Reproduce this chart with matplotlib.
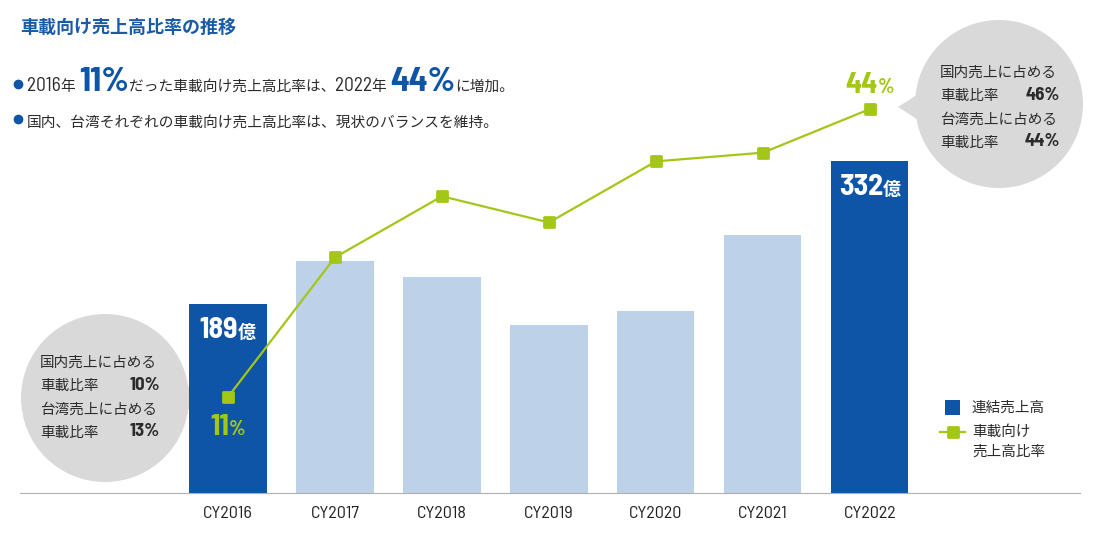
import numpy as np
import matplotlib.pyplot as plt
from matplotlib.markers import MarkerStyle
from matplotlib.patches import Circle, Polygon, Rectangle

NUM = ["Barlow Semi Condensed", "Noto Sans CJK JP", "DejaVu Sans"]
JP = ["Noto Sans CJK JP", "DejaVu Sans"]
plt.rcParams["font.family"] = NUM

# data
years = ["CY2016", "CY2017", "CY2018", "CY2019", "CY2020", "CY2021", "CY2022"]
sales = [189, 232, 216, 168, 182, 258, 332]          # 連結売上高 (億), unlabeled years estimated
auto_ratio = [11, 27, 34, 31, 38, 39, 44]           # 車載向け売上高比率 (%)
highlight = [True, False, False, False, False, False, True]
domestic_ratio = {"CY2016": 10, "CY2022": 46}       # 国内売上に占める車載比率 (%)
taiwan_ratio = {"CY2016": 13, "CY2022": 44}         # 台湾売上に占める車載比率 (%)

BLUE = "#0e55a7"
LIGHT = "#bdd1e8"
GREEN = "#a3c617"
BUBBLE = "#d9d9d9"
TEXT = "#2b2b2b"
W, H = 1100, 538

fig = plt.figure(figsize=(W / 100, H / 100), dpi=100)
back = fig.add_axes([0, 0, 1, 1], zorder=0)
front = fig.add_axes([0, 0, 1, 1], zorder=5)
for o in (back, front):
    o.set_xlim(0, W)
    o.set_ylim(H, 0)
    o.axis("off")
front.patch.set_visible(False)

ax = fig.add_axes([20 / W, (H - 493) / H, 1060 / W, 483 / H], zorder=1)
ax.patch.set_visible(False)
x = np.arange(len(years))
ax.bar(x, sales, width=0.72, color=[BLUE if h else LIGHT for h in highlight], zorder=2)
ax.set_xlim(-1.944, 7.963)
ax.set_ylim(0, 483)
ax.set_yticks([])
for s in ["top", "left", "right"]:
    ax.spines[s].set_visible(False)
ax.spines["bottom"].set_color("#b0b0b0")
ax.set_xticks(x, years, fontsize=13, color="#222222")
ax.tick_params(axis="x", length=0, pad=9)

ax2 = ax.twinx()
ax2.set_ylim(0, 483 / 8.727)
ax2.axis("off")
mk = MarkerStyle("s", joinstyle="round")
ax2.plot(x, auto_ratio, color=GREEN, lw=1.6, marker=mk, ms=7.5, mfc=GREEN, mec=GREEN, mew=2, zorder=3)

renderer = fig.canvas.get_renderer()


def rich(x0, y0, pieces, ha="left"):
    """Draw text pieces one after another on the front overlay, sharing a baseline."""
    objs, cx = [], x0
    for s, kw in pieces:
        t = front.text(cx, y0, s, va="baseline", **kw)
        cx += t.get_window_extent(renderer).width
        objs.append(t)
    shift = {"left": 0, "center": (cx - x0) / 2, "right": cx - x0}[ha]
    for t in objs:
        t.set_x(t.get_position()[0] - shift)


def to_px(a, xv, yv):
    dx, dy = a.transData.transform((xv, yv))
    return dx, H - dy


# title and bullets
front.text(20, 27, "車載向け売上高比率の推移", fontsize=13, color="#1b5ba6",
           fontweight="bold", va="center", family=JP)
jp = dict(fontsize=10.6, color=TEXT, family=JP)
num = dict(fontsize=14, color=TEXT)
big = dict(fontsize=25, color=BLUE, fontweight="bold")
rich(27, 91, [("2016", num), ("年 ", jp), ("11%", big),
              ("だった車載向け売上高比率は、", jp), ("2022", num), ("年 ", jp), ("44%", big),
              ("に増加。", jp)])
rich(27, 127, [("国内、台湾それぞれの車載向け売上高比率は、現状のバランスを維持。", jp)])
front.plot([18, 18], [84, 119], ls="none", marker="o", ms=6, color=BLUE)

# bar value labels
for i, h in enumerate(highlight):
    if h:
        bx, by = to_px(ax, i, sales[i])
        rich(bx, by + 34, [(str(sales[i]), dict(fontsize=21.5, color="white", fontweight="bold")),
                           ("億", dict(fontsize=13, color="white", fontweight="bold", family=JP))],
             ha="center")

# ratio labels
gnum = dict(fontsize=21.5, color=GREEN, fontweight="bold")
gpct = dict(fontsize=15, color=GREEN, fontweight="bold")
lx, ly = to_px(ax2, 0, auto_ratio[0])
rich(lx, ly + 38, [(str(auto_ratio[0]), gnum), ("%", gpct)], ha="center")
rx, ry = to_px(ax2, 6, auto_ratio[6])
rich(rx, ry - 16, [(str(auto_ratio[6]), gnum), ("%", gpct)], ha="center")


# speech bubbles
def bubble(cx, cy, r, tip, year, tx, ty, rx_edge):
    back.add_patch(Circle((cx, cy), r, color=BUBBLE, lw=0, zorder=0))
    side = 1 if tip[0] > cx else -1
    bx = cx + side * (r - 8)
    back.add_patch(Polygon([(bx, tip[1] - 16), tip, (bx, tip[1] + 16)], closed=True,
                           color=BUBBLE, lw=0, zorder=0))
    f = dict(fontsize=10.5, color=TEXT, va="center", family=JP)
    fb = dict(fontsize=13.5, color=TEXT, va="center", fontweight="bold")
    rows = [("国内売上に占める", None), ("車載比率", domestic_ratio[year]),
            ("台湾売上に占める", None), ("車載比率", taiwan_ratio[year])]
    offs = [0, 23, 47, 70]
    for (lab, val), dy in zip(rows, offs):
        front.text(tx, ty + dy, lab, **f)
        if val is not None:
            front.text(rx_edge, ty + dy - 1, f"{val}%", ha="right", **fb)


bubble(105, 398, 84, (205, 398), "CY2016", 40, 363, 160)
bubble(999, 104, 84, (898, 107), "CY2022", 940, 73, 1060)

# legend
front.add_patch(Rectangle((945, 400), 15, 15, color=BLUE, lw=0))
front.text(972, 408, "連結売上高", fontsize=10.5, color=TEXT, va="center", family=JP)
front.plot([940, 965], [432, 432], color=GREEN, lw=1.6)
front.plot([952.5], [432], marker=mk, ms=7.5, mfc=GREEN, mec=GREEN, mew=2)
front.text(972, 432, "車載向け", fontsize=10.5, color=TEXT, va="center", family=JP)
front.text(972, 452, "売上高比率", fontsize=10.5, color=TEXT, va="center", family=JP)

fig.savefig("out.png", dpi=100)
